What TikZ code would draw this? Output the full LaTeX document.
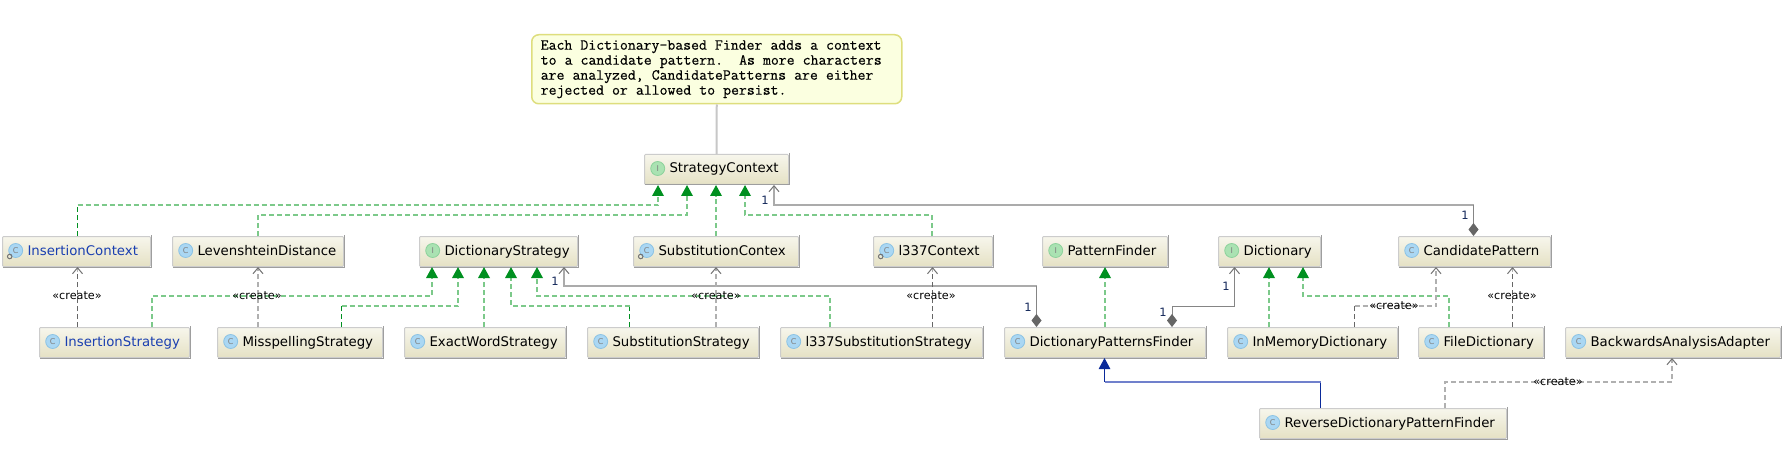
\documentclass[tikz,border=0pt]{standalone}
\usepackage{fontspec}
\setmainfont{DejaVu Sans}
\newfontfamily\notefont[FakeBold=0.5]{Latin Modern Mono}
\usetikzlibrary{arrows.meta,calc}
\definecolor{grn}{HTML}{009020}
\definecolor{grnl}{HTML}{7CC98A}
\definecolor{crt}{HTML}{666666}
\definecolor{crtl}{HTML}{B0B0B0}
\definecolor{asc}{HTML}{858585}
\definecolor{ascl}{HTML}{ABABAB}
\definecolor{inh}{HTML}{0A2A9A}
\definecolor{inhl}{HTML}{7080CC}
\definecolor{bluetxt}{HTML}{1A3FB0}
\definecolor{numtxt}{HTML}{14285A}
\definecolor{boxtop}{HTML}{F7F6EC}
\definecolor{boxbot}{HTML}{E5E1C4}
\definecolor{cfill}{HTML}{AAD7F3}
\definecolor{cedge}{HTML}{8CC3E4}
\definecolor{ifill}{HTML}{AAE2B2}
\definecolor{iedge}{HTML}{8CD29B}
\definecolor{noteedge}{HTML}{DEDE7D}
\definecolor{notefill}{HTML}{FBFFE0}
\tikzset{
  x=1pt,y=-1pt,
  cls/.style={draw=black!20,line width=1pt,rounded corners=1pt,top color=boxtop,bottom color=boxbot,
    inner sep=0pt,anchor=north west,text height=10pt,text depth=3pt,font=\fontsize{13.3}{15}\selectfont},
  edgeshade/.style={draw=black!38,line width=1pt},
  cicon/.style={circle,inner sep=0pt,minimum size=14pt,fill=cfill,draw=cedge,line width=.8pt,text=black!50,font=\fontsize{8}{8}\selectfont},
  iicon/.style={circle,inner sep=0pt,minimum size=14pt,fill=ifill,draw=iedge,line width=.8pt,text=black!50,font=\fontsize{8}{8}\selectfont},
  gear/.style={circle,inner sep=0pt,minimum size=4.5pt,draw=black!55,line width=1pt},
  dashy/.style={dash pattern=on 5pt off 3pt},
  real/.style={draw=grnl,line width=1.8pt,dashy,-{Triangle[width=11.5pt,length=11pt,color=grn,fill=grn]}},
  realdark/.style={draw=grn,line width=1pt,dashy},
  crea/.style={draw=crtl,line width=1.8pt,dashy,-{Straight Barb[width=10pt,length=6pt,line width=1pt,color=black!55]}},
  creadark/.style={draw=crt,line width=1pt,dashy},
  asso/.style={draw=ascl,line width=1.8pt,{Straight Barb[width=10pt,length=6pt,line width=1pt,color=black!55]}-},
  assodark/.style={draw=asc,line width=1pt,-{Diamond[width=10pt,length=13pt,color=crt,fill=crt]}},
  assothin/.style={draw=asc,line width=1pt,{Straight Barb[width=10pt,length=6pt,line width=1pt,color=black!55]}-{Diamond[width=10pt,length=13pt,color=crt,fill=crt]}},
  inhe/.style={draw=inhl,line width=1.8pt},
  inhedark/.style={draw=inh,line width=1pt},
  inhetip/.style={draw=inh,line width=1pt,-{Triangle[width=11.5pt,length=11pt,fill=inh]}},
  clab/.style={inner sep=0pt,font=\fontsize{11.2}{12}\selectfont},
  nlab/.style={inner sep=0pt,text=numtxt,font=\fontsize{11.5}{12}\selectfont},
  notebox/.style={draw=noteedge,line width=1.5pt,fill=notefill,rounded corners=7pt,
    inner xsep=9pt,inner ysep=0pt,align=left,font=\notefont\fontsize{15.35}{15}\selectfont},
  notelink/.style={draw=black!22,line width=2pt}
}
% \anybox[text colour]{name}{x1}{x2}{y1}{text}
\newcommand{\anybox}[6][black]{%
  \pgfmathsetmacro{\bw}{#4-#3}%
  \node[cls,minimum width=\bw pt,minimum height=30pt] (#2) at (#3,#5)
    {\makebox[\bw pt][l]{\hspace{25pt}\textcolor{#1}{#6}}};
  \draw[edgeshade] ([yshift=1pt]#2.north east) -- (#2.south east) -- ([xshift=1pt]#2.south west);
}
\newcommand{\cicon}[1]{\node[cicon] (#1-i) at ($(#1.west)+(13.7,-1)$) {C};}
\newcommand{\iicon}[1]{\node[iicon] (#1-i) at ($(#1.west)+(13.7,-1)$) {I};}
\newcommand{\gearmark}[1]{\node[gear] (#1-g) at ($(#1-i)+(-6,6)$) {};}
\begin{document}
\begin{tikzpicture}
\useasboundingbox[fill=white] (0,0) rectangle (1790,449);

% note
\node[notebox,minimum width=370pt,minimum height=69pt,text width=352pt,anchor=north west] (note) at (531,34)
 {\spaceskip=8.06pt\xspaceskip=8.06pt Each Dictionary-based Finder adds a context\\
  to a candidate pattern.~~As more characters\\
  are analyzed, CandidatePatterns are either\\
  rejected or allowed to persist.};

% boxes
\anybox{sc}{644}{788}{154}{StrategyContext}\iicon{sc}
\anybox[bluetxt]{ic}{2}{150}{236}{InsertionContext}\cicon{ic}\gearmark{ic}
\anybox{ld}{172}{343}{236}{LevenshteinDistance}\cicon{ld}
\anybox{ds}{419}{577}{236}{DictionaryStrategy}\iicon{ds}
\anybox{sub}{633}{798}{236}{SubstitutionContex}\cicon{sub}\gearmark{sub}
\anybox{lc}{873}{992}{236}{l337Context}\cicon{lc}\gearmark{lc}
\anybox{pf}{1042}{1167}{236}{PatternFinder}\iicon{pf}
\anybox{dict}{1218}{1320}{236}{Dictionary}\iicon{dict}
\anybox{cp}{1398}{1550}{236}{CandidatePattern}\cicon{cp}
\anybox[bluetxt]{is}{39}{189}{327}{InsertionStrategy}\cicon{is}
\anybox{ms}{217}{382}{327}{MisspellingStrategy}\cicon{ms}
\anybox{ew}{404}{565}{327}{ExactWordStrategy}\cicon{ew}
\anybox{ss}{587}{758}{327}{SubstitutionStrategy}\cicon{ss}
\anybox{lss}{780}{982}{327}{l337SubstitutionStrategy}\cicon{lss}
\anybox{dpf}{1004}{1205}{327}{DictionaryPatternsFinder}\cicon{dpf}
\anybox{imd}{1227}{1397}{327}{InMemoryDictionary}\cicon{imd}
\anybox{fd}{1418}{1543}{327}{FileDictionary}\cicon{fd}
\anybox{baa}{1565}{1780}{327}{BackwardsAnalysisAdapter}\cicon{baa}
\anybox{rdpf}{1259}{1506}{408}{ReverseDictionaryPatternFinder}\cicon{rdpf}

% note link
\draw[notelink] (note.south) -- (sc.north);

% implementations of StrategyContext
\draw[realdark] (77.5,0 |- ic.north) -- (77.5,205);
\draw[real] (77.5,205) -- (658,205) -- (658,0 |- sc.south);
\draw[real] (258,0 |- ld.north) -- (258,215) -- (687,215) -- (687,0 |- sc.south);
\draw[real] (716,0 |- sub.north) -- (716,0 |- sc.south);
\draw[real] (932,0 |- lc.north) -- (932,215) -- (745,215) -- (745,0 |- sc.south);

% implementations of DictionaryStrategy
\draw[real] (152,0 |- is.north) -- (152,296) -- (432,296) -- (432,0 |- ds.south);
\draw[realdark] (341.5,0 |- ms.north) -- (341.5,306);
\draw[real] (341.5,306) -- (458,306) -- (458,0 |- ds.south);
\draw[real] (484,0 |- ew.north) -- (484,0 |- ds.south);
\draw[realdark] (629.5,0 |- ss.north) -- (629.5,306);
\draw[real] (629.5,306) -- (511,306) -- (511,0 |- ds.south);
\draw[real] (830,0 |- lss.north) -- (830,296) -- (537,296) -- (537,0 |- ds.south);

% other implementations
\draw[real] (1105,0 |- dpf.north) -- (1105,0 |- pf.south);
\draw[real] (1269,0 |- imd.north) -- (1269,0 |- dict.south);
\draw[real] (1449,0 |- fd.north) -- (1449,296) -- (1303,296) -- (1303,0 |- dict.south);

% inheritance
\draw[inhedark] (1320.5,0 |- rdpf.north) -- (1320.5,382);
\draw[inhe] (1320.5,382) -- (1104.5,382);
\draw[inhetip] (1104.5,382) -- (1104.5,0 |- dpf.south);

% associations
\draw[asso] (774,0 |- sc.south) -- (774,205) -- (1473.5,205);
\draw[assodark] (1473.5,205) -- (1473.5,0 |- cp.north);
\draw[asso] (564,0 |- ds.south) -- (564,286) -- (1036.5,286);
\draw[assodark] (1036.5,286) -- (1036.5,0 |- dpf.north);
\draw[assothin] (1234.5,0 |- dict.south) -- (1234.5,306.5) -- (1172,306.5) -- (1172,0 |- dpf.north);

% create dependencies
\draw[creadark] (77.5,0 |- is.north) -- (77.5,272);
\draw[crea] (77.5,272) -- (77.5,0 |- ic.south);
\draw[crea] (258,0 |- ms.north) -- (258,0 |- ld.south);
\draw[crea] (716,0 |- ss.north) -- (716,0 |- sub.south);
\draw[creadark] (932.5,0 |- lss.north) -- (932.5,272);
\draw[crea] (932.5,272) -- (932.5,0 |- lc.south);
\draw[creadark] (1354.5,0 |- imd.north) -- (1354.5,306);
\draw[crea] (1354.5,306) -- (1436,306) -- (1436,0 |- cp.south);
\draw[creadark] (1512.5,0 |- fd.north) -- (1512.5,272);
\draw[crea] (1512.5,272) -- (1512.5,0 |- cp.south);
\draw[crea] (1445,0 |- rdpf.north) -- (1445,382) -- (1672,382) -- (1672,0 |- baa.south);

% labels
\node[clab] (c1) at (77,296) {«create»};
\node[clab] (c2) at (257,296) {«create»};
\node[clab] (c3) at (716,296) {«create»};
\node[clab] (c4) at (931,296) {«create»};
\node[clab] (c5) at (1394,306) {«create»};
\node[clab] (c6) at (1512,296) {«create»};
\node[clab] (c7) at (1558,382) {«create»};
\node[nlab] (n1) at (765,200) {1};
\node[nlab] (n2) at (1465,215) {1};
\node[nlab] (n3) at (555,281) {1};
\node[nlab] (n4) at (1028,307) {1};
\node[nlab] (n5) at (1226,286) {1};
\node[nlab] (n6) at (1163,312) {1};
\end{tikzpicture}
\end{document}
